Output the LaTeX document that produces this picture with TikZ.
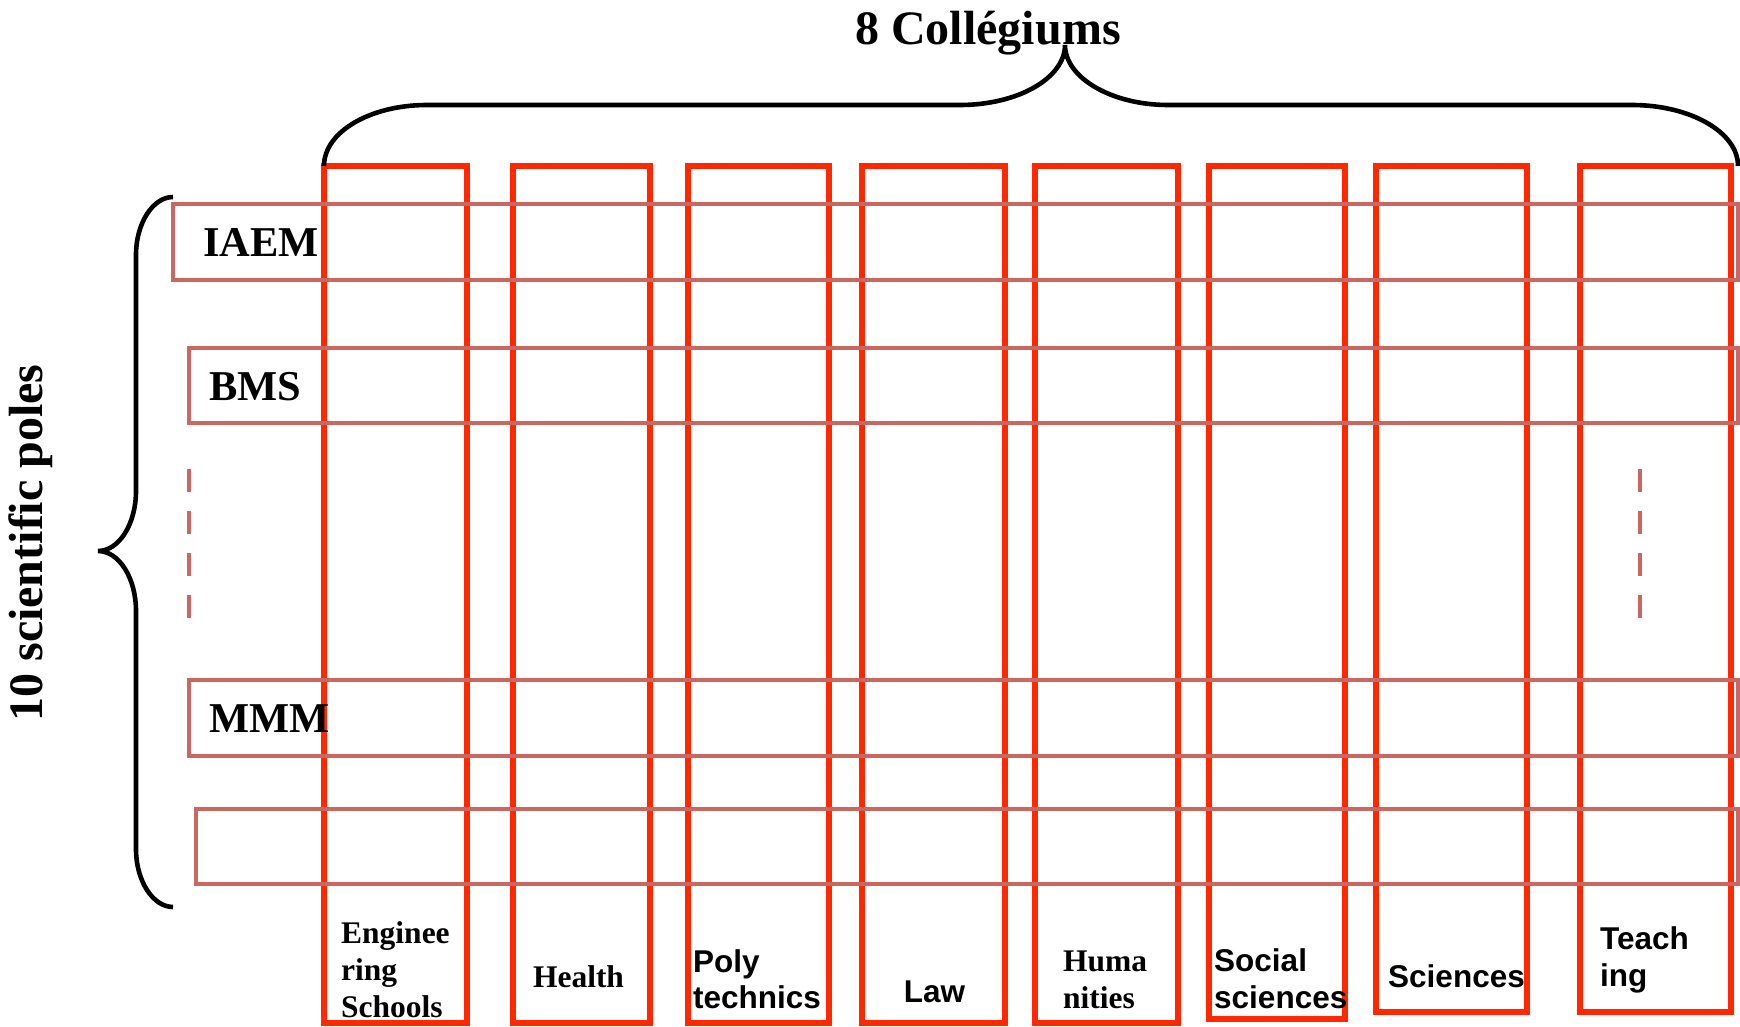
\documentclass[tikz,border=0pt]{standalone}
\usepackage{fontspec}
\setmainfont{Liberation Serif}
\setsansfont{Liberation Sans}
\definecolor{colred}{RGB}{255,40,0}
\definecolor{rowrose}{RGB}{205,102,96}
\begin{document}
\begin{tikzpicture}[x=1pt,y=-1pt,
  colbox/.style={draw=colred,line width=5.2pt},
  rowbox/.style={draw=rowrose,line width=4.8pt},
  bracestyle/.style={draw=black,line width=4.6pt},
  dots/.style={draw=rowrose,line width=4.8pt,dash pattern=on 23pt off 19pt},
  bigserif/.style={font=\fontsize{48}{56}\selectfont\bfseries},
  rowlabel/.style={font=\fontsize{42.5}{50}\selectfont\bfseries,anchor=base west,inner sep=0pt},
  serlab/.style={font=\fontsize{31.5}{37}\selectfont\bfseries,inner sep=0pt},
  sanlab/.style={font=\fontsize{31.5}{37}\selectfont\sffamily\bfseries,inner sep=0pt}]
\useasboundingbox (0,0) rectangle (1740,1027);

% columns (collegiums)
\draw[colbox] (324,166) rectangle (467,1023);
\draw[colbox] (513,166) rectangle (650,1023);
\draw[colbox] (688,166) rectangle (829,1023);
\draw[colbox] (862,166) rectangle (1005,1023);
\draw[colbox] (1035,166) rectangle (1178,1023);
\draw[colbox] (1209,166) rectangle (1345,1019);
\draw[colbox] (1376,166) rectangle (1527,1012);
\draw[colbox] (1580,166) rectangle (1731,1012);

% rows (poles)
\draw[rowbox] (173,204) rectangle (1738,280);
\draw[rowbox] (189,348) rectangle (1738,423);
\draw[rowbox] (189,680) rectangle (1738,756);
\draw[rowbox] (196,809) rectangle (1738,884);

% dashed continuation marks
\coordinate (dl1) at (189,469);
\coordinate (dl2) at (189,618);
\coordinate (dr1) at (1640,469);
\coordinate (dr2) at (1640,618);
\draw[dots] (dl1) -- (dl2);
\draw[dots] (dr1) -- (dr2);

% top brace
\coordinate (tb1) at (324,166);
\coordinate (tb2) at (427,105);
\coordinate (tb3) at (960,105);
\coordinate (tbp) at (1065,45);
\coordinate (tb4) at (1168,105);
\coordinate (tb5) at (1632,105);
\coordinate (tb6) at (1738,166);
\draw[bracestyle] (tb1) .. controls (324,132) and (370,105) .. (tb2)
  -- (tb3) .. controls (1018,105) and (1065,78) .. (tbp)
  .. controls (1065,78) and (1112,105) .. (tb4)
  -- (tb5) .. controls (1690,105) and (1738,132) .. (tb6);

% left brace
\coordinate (lb1) at (173,197);
\coordinate (lb2) at (136,255);
\coordinate (lb3) at (136,491);
\coordinate (lbp) at (98,551);
\coordinate (lb4) at (136,611);
\coordinate (lb5) at (136,849);
\coordinate (lb6) at (173,907);
\draw[bracestyle] (lb1) .. controls (153,197) and (136,223) .. (lb2)
  -- (lb3) .. controls (136,524) and (119,551) .. (lbp)
  .. controls (119,551) and (136,578) .. (lb4)
  -- (lb5) .. controls (136,881) and (153,907) .. (lb6);

% titles
\node[bigserif,anchor=base,inner sep=0pt] (title) at (988,45) {8 Collégiums};
\node[bigserif,anchor=base,inner sep=0pt,rotate=90] (side) at (42,543) {10 scientific poles};

% row labels
\node[rowlabel] (iaem) at (203,256) {IAEM};
\node[rowlabel] (bms) at (209,400) {BMS};
\node[rowlabel] (mmm) at (209,732) {MMM};

% column labels
\node[serlab,anchor=base west] (eng1) at (341,943) {Enginee};
\node[serlab,anchor=base west] (eng2) at (341,980) {ring};
\node[serlab,anchor=base west] (eng3) at (341,1017) {Schools};
\node[serlab,anchor=base] (health) at (578.5,987) {Health};
\node[sanlab,anchor=base west] (poly1) at (693,972) {Poly};
\node[sanlab,anchor=base west] (poly2) at (693,1008) {technics};
\node[sanlab,anchor=base] (law) at (934.5,1002) {Law};
\node[serlab,anchor=base west] (hum1) at (1063,971) {Huma};
\node[serlab,anchor=base west] (hum2) at (1063,1008) {nities};
\node[sanlab,anchor=base west] (soc1) at (1214,971) {Social};
\node[sanlab,anchor=base west] (soc2) at (1214,1008) {sciences};
\node[sanlab,anchor=base west] (sci) at (1388,987) {Sciences};
\node[sanlab,anchor=base west] (teach1) at (1600,949) {Teach};
\node[sanlab,anchor=base west] (teach2) at (1600,986) {ing};
\end{tikzpicture}
\end{document}
